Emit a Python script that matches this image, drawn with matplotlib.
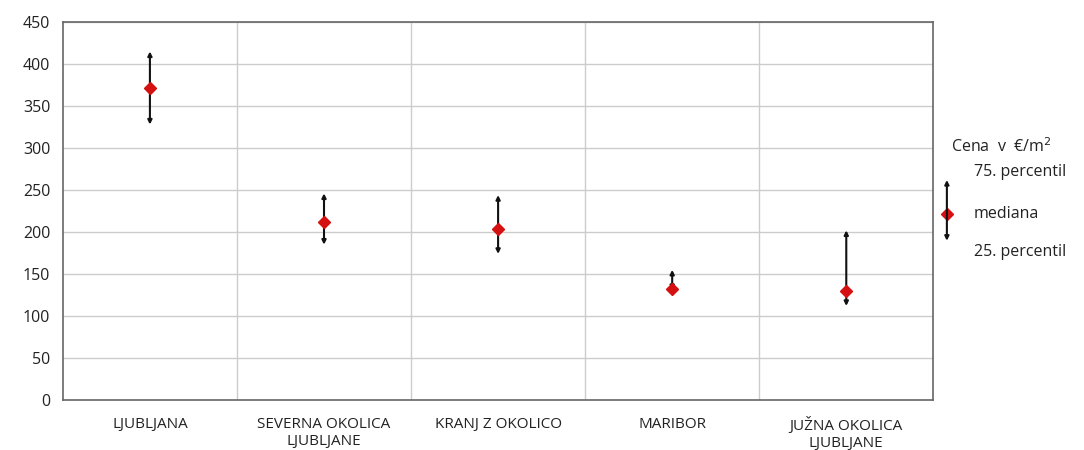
import numpy as np
import matplotlib.pyplot as plt

plt.rcParams['font.family'] = ['Open Sans', 'DejaVu Sans']

# Cena v EUR/m2 po regijah
regije = ['LJUBLJANA', 'SEVERNA OKOLICA\nLJUBLJANE', 'KRANJ Z OKOLICO',
          'MARIBOR', 'JUŽNA OKOLICA\nLJUBLJANE']
p25 = [328, 185, 174, 131, 112]
mediana = [371, 212, 204, 132, 130]
p75 = [415, 246, 244, 155, 202]

fig = plt.figure(figsize=(10.84, 4.5), dpi=100)
ax = fig.add_axes([0.058, 0.111, 0.803, 0.840])

x = np.arange(len(regije))
ax.set_xlim(-0.5, len(regije) - 0.5)
ax.set_ylim(0, 450)
ax.set_yticks(np.arange(0, 451, 50))
ax.set_xticks(x)
ax.set_xticklabels(regije, fontsize=11, color='#222222', linespacing=1.25)
ax.tick_params(axis='y', labelsize=11.5, colors='#222222', length=0, pad=9)
ax.tick_params(axis='x', length=0, pad=12)

# mreza
for y in np.arange(50, 451, 50):
    ax.axhline(y, color='#cccccc', lw=1, zorder=0)
for xv in x[:-1] + 0.5:
    ax.axvline(xv, color='#cccccc', lw=1, zorder=0)
for s in ax.spines.values():
    s.set_color('#666666')
    s.set_linewidth(1.2)

# percentili (puscice) in mediana
for i in range(len(regije)):
    ax.annotate('', xy=(x[i], p75[i]), xytext=(x[i], p25[i]),
                arrowprops=dict(arrowstyle='<|-|>', color='#111111', lw=1.5,
                                mutation_scale=6, shrinkA=0, shrinkB=0))
ax.plot(x, mediana, linestyle='none', marker='D', color='#d41010',
        markersize=6.5, zorder=5)

# legenda desno
lax = fig.add_axes([0.861, 0.0, 0.139, 1.0])
lax.set_xlim(0, 1)
lax.set_ylim(0, 1)
lax.axis('off')
lax.text(0.12, 0.675, 'Cena  v  €/m$^2$', fontsize=11.5, color='#222222', va='center')
lax.annotate('', xy=(0.09, 0.60), xytext=(0.09, 0.465),
             arrowprops=dict(arrowstyle='<|-|>', color='#111111', lw=1.5,
                             mutation_scale=6, shrinkA=0, shrinkB=0))
lax.plot([0.09], [0.525], marker='D', color='#d41010', markersize=6.5)
lax.text(0.27, 0.617, '75. percentil', fontsize=11.5, color='#222222', va='center')
lax.text(0.27, 0.525, 'mediana', fontsize=11.5, color='#222222', va='center')
lax.text(0.27, 0.44, '25. percentil', fontsize=11.5, color='#222222', va='center')

fig.savefig('out.png', dpi=100)
